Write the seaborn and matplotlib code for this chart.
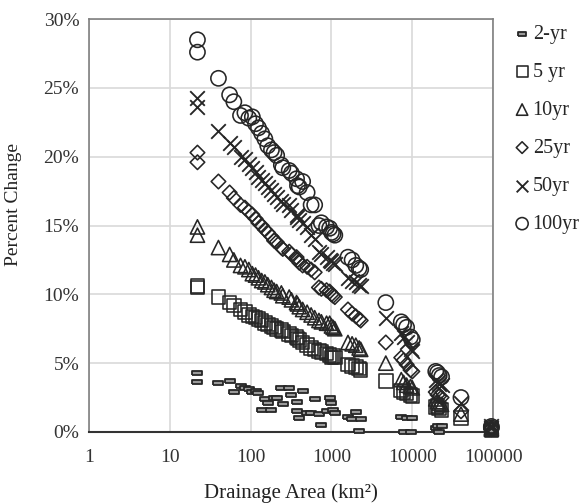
import numpy as np
import pandas as pd
import matplotlib
matplotlib.use("Agg")
import matplotlib.pyplot as plt
import seaborn as sns

# drainage area of each gauge (km2) and percent change per return period
area = [22, 22, 40, 55, 62, 75, 85, 95, 105, 115, 125, 137, 150, 163, 181, 195,
        210, 240, 250, 300, 320, 370, 380, 400, 440, 500, 560, 620, 700, 750,
        870, 950, 1000, 1050, 1100, 1600, 1800, 2000, 2200, 2300, 4700, 7300,
        7800, 8500, 9500, 10000, 19500, 20500, 21500, 23000, 40000, 95000, 95000]

pct_2yr = [4.3, 3.6, 3.55, 3.7, 2.9, 3.35, 3.2, 3.1, 2.9, 3.0, 2.8, 1.6, 2.4, 2.1,
           1.6, 2.5, 2.5, 3.2, 2.0, 3.2, 2.7, 2.2, 1.5, 1.0, 3.0, 1.4, 1.4, 2.4,
           1.3, 0.5, 1.5, 2.5, 2.1, 1.6, 1.4, 1.1, 0.95, 1.45, 0.1, 0.95, np.nan,
           1.1, 0.0, 1.0, 0.0, 1.0, 0.3, 0.4, 0.0, 0.4, np.nan, 0.0, 0.1]
pct_5yr = [10.6, 10.5, 9.8, 9.4, 9.2, 8.9, 8.7, 8.5, 8.4, 8.3, 8.2, 8.1, 7.9, 7.8,
           7.7, 7.6, 7.5, 7.4, 7.3, 7.1, 7.0, 6.9, 6.8, 6.7, 6.5, 6.3, 6.1, 6.0,
           5.9, 5.8, 5.7, 5.6, 5.4, 5.5, 5.4, 4.9, 4.8, 4.7, 4.6, 4.5, 3.7, 3.0,
           2.9, 2.8, 2.7, 2.6, 1.8, 1.9, 1.7, 1.6, 1.0, 0.1, 0.2]
pct_10yr = [14.9, 14.3, 13.4, 12.9, 12.5, 12.1, 12.0, 11.8, 11.5, 11.4, 11.2, 11.0,
            10.9, 10.7, 10.5, 10.3, 10.2, 10.1, 9.9, 9.8, 9.6, 9.4, 9.3, 9.1, 8.9,
            8.7, 8.5, 8.3, 8.1, 8.0, 7.9, 7.9, 7.7, 7.6, 7.5, 6.5, 6.4, 6.3, 6.1,
            6.0, 5.0, 3.8, 3.6, 3.4, 3.3, 3.2, 2.4, 2.2, 2.1, 2.0, 1.3, 0.2, 0.3]
pct_25yr = [20.3, 19.6, 18.2, 17.4, 17.0, 16.5, 16.3, 16.0, 15.8, 15.5, 15.2, 15.0,
            14.7, 14.5, 14.2, 13.9, 13.8, 13.4, 13.3, 13.1, 12.9, 12.7, 12.5, 12.3,
            12.1, 12.0, 11.8, 11.6, 10.5, 10.4, 10.3, 10.2, 10.0, 9.9, 9.8, 8.9,
            8.6, 8.4, 8.2, 8.1, 6.5, 5.4, 5.2, 4.9, 4.5, 4.4, 2.9, 2.7, 2.6, 2.5,
            1.5, 0.2, 0.3]
pct_50yr = [24.3, 23.6, 21.9, 21.0, 20.7, 20.0, 19.8, 19.5, 19.2, 18.9, 18.5, 18.3,
            18.1, 17.8, 17.6, 17.3, 17.1, 16.8, 16.6, 16.5, 16.1, 15.8, 15.6, 15.4,
            15.2, 14.9, 14.3, 14.0, 13.1, 12.9, 12.7, 12.5, 12.4, 12.3, 12.2, 11.2,
            11.0, 10.9, 10.7, 10.6, 8.3, 7.2, 6.9, 6.5, 6.0, 5.9, 3.8, 3.6, 3.5,
            3.4, 2.1, 0.3, 0.4]
pct_100yr = [28.5, 27.6, 25.7, 24.5, 24.0, 23.0, 23.2, 22.8, 22.9, 22.4, 22.1, 21.7,
             21.3, 20.8, 20.5, 20.3, 20.1, 19.4, 19.2, 19.0, 18.8, 18.4, 17.9, 17.8,
             18.2, 17.4, 16.5, 16.5, 15.0, 15.2, 14.9, 14.8, 14.5, 14.4, 14.3, 12.7,
             12.5, 12.1, 11.9, 11.8, 9.4, 8.0, 7.8, 7.6, 6.9, 6.7, 4.4, 4.3, 4.1,
             4.0, 2.5, 0.3, 0.4]

series = ["2-yr", "5 yr", "10yr", "25yr", "50yr", "100yr"]
values = [pct_2yr, pct_5yr, pct_10yr, pct_25yr, pct_50yr, pct_100yr]

df = pd.concat(
    [pd.DataFrame({"area": area, "pct": v, "period": s}) for s, v in zip(series, values)],
    ignore_index=True,
).dropna()

sns.set_style("white")
plt.rcParams["font.family"] = ["Liberation Serif", "DejaVu Serif"]

ink = "#262626"
dash = [(-1, -0.42), (1, -0.42), (1, 0.42), (-1, 0.42), (-1, -0.42)]
styles = {
    "2-yr": dict(marker=dash, s=42, facecolor="#9a9a9a", edgecolor=ink, linewidth=1.3),
    "5 yr": dict(marker="s", s=95, facecolor="none", edgecolor=ink, linewidth=1.15),
    "10yr": dict(marker="^", s=105, facecolor="none", edgecolor=ink, linewidth=1.15),
    "25yr": dict(marker="D", s=55, facecolor="none", edgecolor=ink, linewidth=1.15),
    "50yr": dict(marker="x", s=110, color=ink, linewidth=1.35),
    "100yr": dict(marker="o", s=120, facecolor="none", edgecolor=ink, linewidth=1.15),
}

fig = plt.figure(figsize=(5.85, 5.04), dpi=100)
ax = fig.add_axes([0.152, 0.143, 0.691, 0.819])

for s in series:
    sns.scatterplot(data=df[df["period"] == s], x="area", y="pct", label=s,
                    ax=ax, legend=False, clip_on=False, zorder=3, **styles[s])

ax.set_xscale("log")
ax.set_xlim(1, 100000)
ax.set_ylim(0, 30)
ax.set_xticks([1, 10, 100, 1000, 10000, 100000])
ax.set_xticklabels(["1", "10", "100", "1000", "10000", "100000"])
ax.xaxis.set_minor_locator(matplotlib.ticker.NullLocator())
ax.set_yticks(range(0, 31, 5))
ax.set_yticklabels([f"{v}%" for v in range(0, 31, 5)])
ax.tick_params(axis="both", length=0, labelsize=14, colors="#333333")
ax.tick_params(axis="x", pad=12)
ax.tick_params(axis="y", pad=7)

ax.grid(True, color="#d9d9d9", linewidth=1.2)
ax.set_axisbelow(True)
for side in ["left", "right", "top"]:
    ax.spines[side].set_color("#808080")
    ax.spines[side].set_linewidth(1.2)
ax.spines["bottom"].set_color("#333333")
ax.spines["bottom"].set_linewidth(1.5)

ax.set_xlabel("Drainage Area (km²)", fontsize=15, color="#222222")
ax.set_ylabel("Percent Change", fontsize=14, color="#222222")
ax.xaxis.set_label_coords(0.5, -0.125)
ax.yaxis.set_label_coords(-0.165, 0.55)

ax.legend(loc="upper left", bbox_to_anchor=(0.883, 0.951),
          bbox_transform=fig.transFigure, frameon=False, fontsize=14.5,
          handlelength=0.55, handletextpad=0.25, borderpad=0, borderaxespad=0,
          labelspacing=0.94, scatterpoints=1, markerscale=0.8)

fig.savefig("out.png", dpi=100)
